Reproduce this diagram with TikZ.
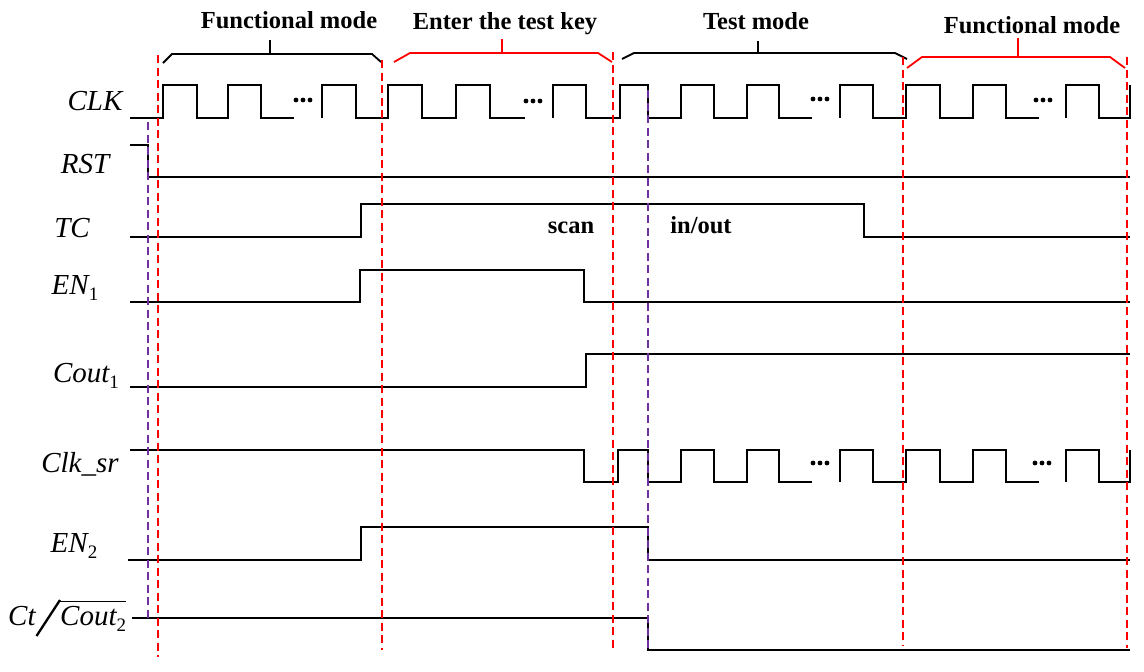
\documentclass[tikz,border=0pt]{standalone}
\usepackage{fontspec}
\setmainfont{Liberation Serif}
\usepackage{graphicx}
\definecolor{purp}{RGB}{112,48,160}
\newcommand\subs[1]{\raisebox{-0.22em}{\fontsize{19}{19}\selectfont\upshape #1}}
\newcommand\ovlbox[1]{\leavevmode\vbox{\hrule height 1.6pt\kern 3.5pt\hbox{#1}}}
\begin{document}
\begin{tikzpicture}[x=1pt,y=-1pt,
  wave/.style={line width=2pt, line join=miter, black},
  rdash/.style={red, line width=2pt, dash pattern=on 8pt off 4.5pt},
  pdash/.style={purp, line width=2pt, dash pattern=on 8pt off 4.5pt},
  brk/.style={line width=1.8pt},
  lbl/.style={font=\fontsize{29}{30}\selectfont\itshape, anchor=base, inner sep=0pt},
  ttl/.style={font=\fontsize{24.5}{26}\selectfont\bfseries, anchor=base, inner sep=0pt},
  dotm/.style={black}
]
\useasboundingbox (0,0) rectangle (1144,672);

% signal labels
\node[lbl] (lclk) at (95,110) {CLK};
\node[lbl] (lrst) at (85,173) {RST};
\node[lbl] (ltc) at (72,237) {TC};
\node[lbl] (len1) at (75,294) {EN\subs{1}};
\node[lbl] (lcout1) at (86,382) {Cout\subs{1}};
\node[lbl] (lclksr) at (80,472) {Clk\_sr};
\node[lbl] (len2) at (74,552) {EN\subs{2}};
\node[lbl, anchor=base west] (lct) at (8,625) {Ct};
\node[lbl, anchor=base west] (lcout2) at (60,625) {\ovlbox{Cout\subs{2}}};
\draw[line width=2.3pt] (36.5,636) -- (60,600);

% titles
\node[ttl] (t1) at (289,28) {Functional mode};
\node[ttl] (t2) at (505,29) {Enter the test key};
\node[ttl] (t3) at (756,29) {Test mode};
\node[ttl] (t4) at (1032,33) {Functional mode};
\node[ttl] (scan) at (571,233) {scan};
\node[ttl] (inout) at (701,233) {in/out};

% brackets
\draw[brk] (163,63) -- (172,54) -- (372,54) -- (381,62);
\draw[brk] (270,54) -- (270,40);
\draw[brk,red] (394,62) -- (410,53) -- (598,53) -- (612,62);
\draw[brk,red] (502,53) -- (502,39);
\draw[brk] (622,59) -- (634,53) -- (895,53) -- (907,59);
\draw[brk] (758,53) -- (758,41);
\draw[brk,red] (907,68) -- (922,57) -- (1110,57) -- (1125,68);
\draw[brk,red] (1018,57) -- (1018,38);

% CLK
\draw[wave] (130,118) -- (163,118) -- (163,85) -- (197,85) -- (197,118) -- (228,118) -- (228,85) -- (261,85) -- (261,118) -- (294,118);
\draw[wave] (322,118) -- (322,85) -- (356,85) -- (356,118) -- (388,118) -- (388,85) -- (422,85) -- (422,118) -- (456,118) -- (456,85) -- (490,85) -- (490,118) -- (525,118);
\draw[wave] (553,118) -- (553,85) -- (586,85) -- (586,118) -- (620,118) -- (620,85) -- (648,85) -- (648,118) -- (681,118) -- (681,85) -- (714,85) -- (714,118) -- (747,118) -- (747,85) -- (779,85) -- (779,118) -- (812,118);
\draw[wave] (840,118) -- (840,85) -- (873,85) -- (873,118) -- (906,118) -- (906,85) -- (940,85) -- (940,118) -- (973,118) -- (973,85) -- (1006,85) -- (1006,118) -- (1039,118);
\draw[wave] (1066,118) -- (1066,85) -- (1099,85) -- (1099,118) -- (1130,118) -- (1130,85);

% RST
\draw[wave] (130,145) -- (148,145) -- (148,177) -- (1130,177);
% TC
\draw[wave] (130,237) -- (361,237) -- (361,204) -- (864,204) -- (864,237) -- (1130,237);
% EN1
\draw[wave] (130,302) -- (360,302) -- (360,270) -- (584,270) -- (584,302) -- (1130,302);
% Cout1
\draw[wave] (130,387) -- (586,387) -- (586,354) -- (1130,354);
% Clk_sr
\draw[wave] (130,450) -- (584,450) -- (584,482) -- (618,482) -- (618,450) -- (648,450) -- (648,482) -- (681,482) -- (681,450) -- (714,450) -- (714,482) -- (747,482) -- (747,450) -- (779,450) -- (779,482) -- (812,482);
\draw[wave] (840,482) -- (840,450) -- (873,450) -- (873,482) -- (906,482) -- (906,450) -- (940,450) -- (940,482) -- (973,482) -- (973,450) -- (1006,450) -- (1006,482) -- (1039,482);
\draw[wave] (1066,482) -- (1066,450) -- (1099,450) -- (1099,482) -- (1130,482) -- (1130,450);
% EN2
\draw[wave] (128,560) -- (361,560) -- (361,527) -- (648,527) -- (648,560) -- (1130,560);
% Ct / Cout2
\draw[wave] (132,618) -- (648,618) -- (648,650) -- (1130,650);

% dots
\foreach \cx/\cy in {303/100, 533/101, 820/99, 1043/100, 820/463, 1042/463}
  \foreach \d in {-7,0,7}
    \fill[dotm] (\cx+\d,\cy) circle (2.4pt);

% red dashed lines
\draw[rdash] (158,55) -- (158,657);
\draw[rdash] (382,60) -- (382,650);
\draw[rdash] (613,52) -- (613,650);
\draw[rdash] (903,57) -- (903,645);
\draw[rdash] (1127,57) -- (1127,648);
% purple dashed lines
\draw[pdash] (148,122) -- (148,618);
\draw[pdash] (648,90) -- (648,650);
\end{tikzpicture}
\end{document}
